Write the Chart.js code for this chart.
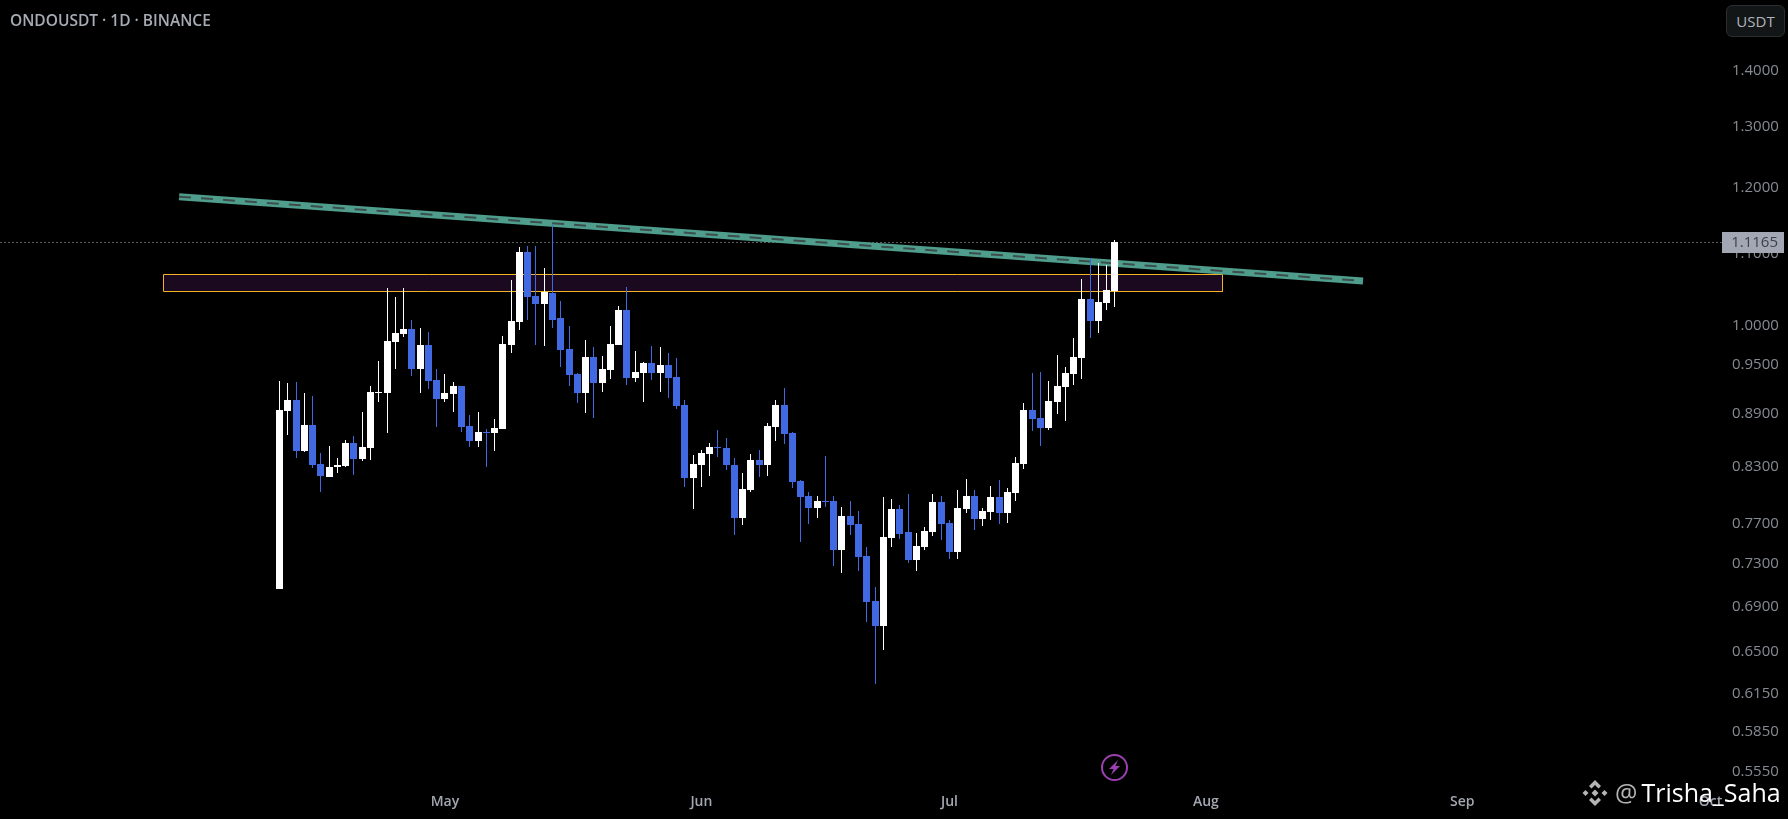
<!DOCTYPE html>
<html>
<head>
<meta charset="utf-8">
<title>ONDOUSDT</title>
<script src="https://cdn.jsdelivr.net/npm/chart.js@4/dist/chart.umd.min.js"></script>
<style>
  html, body { margin: 0; padding: 0; background: #000; }
  #wrap { position: relative; width: 1788px; height: 819px; overflow: hidden; font-family: "Open Sans", sans-serif; }
  #priceChart { position: absolute; left: 0; top: 0; }
  .title { position: absolute; left: 10px; top: 10px; font-size: 15.5px; line-height: 20px; font-weight: 600; color: #a6abb6; white-space: nowrap; }
  .badge { position: absolute; left: 1726px; top: 5px; width: 59px; height: 32px; box-sizing: border-box; border: 1px solid #2a2e2f; border-radius: 6px; background: #131617; color: #b2b5be; font-size: 15px; line-height: 30px; text-align: center; }
  .mark { position: absolute; left: 1615px; top: 775px; font-size: 25px; line-height: 34px; color: #fff; white-space: nowrap; }
  .mark span { color: #b5b5b5; margin-right: 4px; }
  svg { position: absolute; }
</style>
</head>
<body>
<div id="wrap">
  <canvas id="priceChart" width="1788" height="819"></canvas>
  <div class="title">ONDOUSDT · 1D · BINANCE</div>
  <div class="badge">USDT</div>
  <svg style="left:1100px;top:753px" width="29" height="29" viewBox="0 0 29 29">
    <circle cx="14.5" cy="14.5" r="12.5" fill="none" stroke="#9c3fb0" stroke-width="2"></circle>
    <polygon points="18,7 9,16 13.5,16 11,22 20,13 15.5,13" fill="#9c3fb0"></polygon>
  </svg>
  <svg style="left:1581px;top:779px" width="28" height="28" viewBox="0 0 28 28" fill="#b5b5b5">
    <polygon points="14,1 20,7 17.5,9.5 14,6 10.5,9.5 8,7"></polygon>
    <polygon points="4.5,11 7.5,14 4.5,17 1.5,14"></polygon>
    <polygon points="23.5,11 26.5,14 23.5,17 20.5,14"></polygon>
    <polygon points="14,10.5 17.5,14 14,17.5 10.5,14"></polygon>
    <polygon points="14,27 8,21 10.5,18.5 14,22 17.5,18.5 20,21"></polygon>
  </svg>
  <div class="mark"><span>@</span>Trisha_Saha</div>
</div>
<script>
// daily candles, first one is 11 Apr
const opens = [
  0.7064, 0.8936, 0.9066, 0.8477, 0.8772, 0.8331, 0.8191, 0.8298, 0.8309, 0.8567,
  0.8387, 0.8511, 0.9151, 0.9150, 0.9788, 0.9891, 0.9955, 0.9444, 0.9749, 0.9309,
  0.9078, 0.9138, 0.9236, 0.8760, 0.8589, 0.8691, 0.8679, 0.8725, 0.9749, 1.0050,
  1.1023, 1.0399, 1.0291, 1.0441, 1.0103, 0.9698, 0.9383, 0.9150, 0.9595, 0.9273,
  0.9432, 0.9749, 1.0211, 0.9334, 0.9395, 0.9518, 0.9395, 0.9494, 0.9346, 0.9007,
  0.8180, 0.8320, 0.8443, 0.8522, 0.8511, 0.8320, 0.7760, 0.8051, 0.8376, 0.8320,
  0.8748, 0.9007, 0.8679, 0.8148, 0.7986, 0.7862, 0.7934, 0.7934, 0.7439, 0.7780,
  0.7698, 0.7379, 0.6953, 0.6727, 0.7557, 0.7852, 0.7616, 0.7340, 0.7468, 0.7616,
  0.7924, 0.7708, 0.7419, 0.7852, 0.7986, 0.7749, 0.7821, 0.7976, 0.7811, 0.8018,
  0.8331, 0.8948, 0.8854, 0.8737, 0.9042, 0.9224, 0.9383, 0.9582, 1.0359, 1.0063,
  1.0305, 1.0469,
];
const closes = [
  0.8948, 0.9066, 0.8477, 0.8772, 0.8320, 0.8202, 0.8298, 0.8320, 0.8567, 0.8387,
  0.8522, 0.9157, 0.9157, 0.9801, 0.9904, 0.9955, 0.9444, 0.9749, 0.9297, 0.9078,
  0.9150, 0.9236, 0.8748, 0.8589, 0.8691, 0.8683, 0.8737, 0.9762, 1.0063, 1.1023,
  1.0385, 1.0291, 1.0455, 1.0076, 0.9685, 0.9371, 0.9150, 0.9595, 0.9273, 0.9444,
  0.9762, 1.0211, 0.9334, 0.9408, 0.9518, 0.9395, 0.9494, 0.9334, 0.8995, 0.8180,
  0.8331, 0.8454, 0.8522, 0.8514, 0.8320, 0.7760, 0.8062, 0.8376, 0.8320, 0.8760,
  0.9007, 0.8668, 0.8137, 0.7976, 0.7862, 0.7934, 0.7928, 0.7439, 0.7780, 0.7688,
  0.7369, 0.6944, 0.6727, 0.7567, 0.7852, 0.7597, 0.7340, 0.7478, 0.7626, 0.7924,
  0.7698, 0.7419, 0.7862, 0.7986, 0.7749, 0.7832, 0.7976, 0.7811, 0.8029, 0.8342,
  0.8948, 0.8842, 0.8737, 0.9054, 0.9236, 0.9395, 0.9595, 1.0359, 1.0063, 1.0318,
  1.0483, 1.1165,
];
const highs = [
  0.9297, 0.9273, 0.9285, 0.9150, 0.9113, 0.8454, 0.8533, 0.8398, 0.8600, 0.8646,
  0.8925, 0.9236, 0.9544, 1.0511, 1.0385, 1.0511, 1.0076, 0.9969, 0.9916, 0.9444,
  0.9383, 0.9285, 0.9236, 0.8889, 0.8925, 0.8725, 0.8842, 0.9865, 1.0624, 1.1096,
  1.1111, 1.1111, 1.0792, 1.1425, 1.0329, 0.9996, 0.9395, 0.9814, 0.9724, 0.9608,
  0.9996, 1.0265, 1.0525, 0.9672, 0.9531, 0.9736, 0.9724, 0.9647, 0.9582, 0.9066,
  0.8432, 0.8488, 0.8567, 0.8713, 0.8623, 0.8398, 0.8234, 0.8443, 0.8488, 0.8795,
  0.9066, 0.9211, 0.8691, 0.8159, 0.8029, 0.7986, 0.8420, 0.7986, 0.7873, 0.7934,
  0.7832, 0.7468, 0.7083, 0.7976, 0.7955, 0.7893, 0.8008, 0.7606, 0.7667, 0.8008,
  0.7986, 0.7739, 0.8051, 0.8169, 0.8051, 0.7862, 0.8094, 0.8159, 0.8072, 0.8409,
  0.9031, 0.9395, 0.9408, 0.9297, 0.9621, 0.9469, 0.9839, 1.0637, 1.0935, 1.0862,
  1.0834, 1.1199,
];
const lows = [
  0.7064, 0.8657, 0.8398, 0.8465, 0.8288, 0.8029, 0.8191, 0.8234, 0.8298, 0.8212,
  0.8364, 0.8376, 0.9042, 0.8679, 0.9444, 0.9852, 0.9359, 0.9150, 0.9199, 0.8748,
  0.9042, 0.8925, 0.8691, 0.8522, 0.8522, 0.8298, 0.8477, 0.8725, 0.9647, 0.9942,
  1.0076, 0.9749, 0.9736, 0.9969, 0.9469, 0.9236, 0.9031, 0.8913, 0.8854, 0.9162,
  0.9322, 0.9749, 0.9248, 0.9285, 0.9042, 0.9309, 0.9162, 0.9089, 0.8952, 0.8083,
  0.7852, 0.8083, 0.8202, 0.8409, 0.8266, 0.7587, 0.7688, 0.8029, 0.8191, 0.8202,
  0.8589, 0.8556, 0.8072, 0.7518, 0.7698, 0.7760, 0.7873, 0.7282, 0.7216, 0.7587,
  0.7235, 0.6763, 0.6233, 0.6519, 0.7468, 0.7547, 0.7310, 0.7235, 0.7439, 0.7577,
  0.7537, 0.7350, 0.7350, 0.7811, 0.7636, 0.7677, 0.7739, 0.7698, 0.7708, 0.7934,
  0.8277, 0.8702, 0.8533, 0.8713, 0.8901, 0.8819, 0.9248, 0.9322, 0.9839, 0.9904,
  1.0211, 1.0251,
];

// axis ticks
const priceTicks = [1.4, 1.3, 1.2, 1.1, 1.0, 0.95, 0.89, 0.83, 0.77, 0.73, 0.69, 0.65, 0.615, 0.585, 0.555];
const monthLabels = ["May", "Jun", "Jul", "Aug", "Sep", "Oct"];
const monthDays = [20, 51, 81, 112, 143, 173];

// drawings on the chart, x is days after the first candle
const lastPrice = 1.1165;
const zoneDays = [-14, 114];
const zonePrices = [1.0698, 1.0461];
const trendDays = [-12.15, 131];
const trendPrices = [1.1855, 1.0607];

const xMin = -33.8;
const xMax = 174.4;
const yMin = 0.5446;
const yMax = 1.5369;

const upColor = "#ffffff";
const downColor = "#4169e1";
const candleColors = closes.map((c, i) => (c >= opens[i] ? upColor : downColor));

// keeps candles and thin lines on whole pixels
const snapPlugin = {
  id: "snap",
  beforeDatasetsDraw(chart) {
    chart.data.datasets.forEach((ds, i) => {
      const meta = chart.getDatasetMeta(i);
      if (ds.type === "bar") {
        meta.data.forEach((bar) => {
          bar.x = Math.floor(bar.x) + 0.5;
          bar.y = Math.round(bar.y);
          bar.base = Math.round(bar.base);
          if (bar.y === bar.base) bar.base = bar.y + 1;
        });
      } else if (ds.snap) {
        meta.data.forEach((pt) => {
          pt.x = Math.floor(pt.x) + 0.5;
          pt.y = Math.floor(pt.y) + 0.5;
        });
      }
    });
  },
};

// current price tag on the axis
const priceTagPlugin = {
  id: "priceTag",
  afterDraw(chart) {
    const { ctx } = chart;
    const y = Math.floor(chart.scales.y.getPixelForValue(lastPrice));
    ctx.save();
    ctx.fillStyle = "#a3a7b4";
    ctx.fillRect(1722, y - 10, 62, 21);
    ctx.fillStyle = "#3b424d";
    ctx.font = '15px "Open Sans"';
    ctx.textAlign = "right";
    ctx.textBaseline = "middle";
    ctx.fillText(lastPrice.toFixed(4), 1778, y + 1);
    ctx.restore();
  },
};

new Chart(document.getElementById("priceChart"), {
  type: "bar",
  data: {
    datasets: [
      {
        type: "line",
        data: [
          { x: zoneDays[0], y: zonePrices[0] },
          { x: zoneDays[1], y: zonePrices[0] },
          { x: zoneDays[1], y: zonePrices[1] },
          { x: zoneDays[0], y: zonePrices[1] },
          { x: zoneDays[0], y: zonePrices[0] },
        ],
        borderColor: "#f5b324",
        borderWidth: 1,
        backgroundColor: "#1b0a1f",
        fill: "shape",
        pointRadius: 0,
        order: 6,
        snap: true,
      },
      {
        type: "line",
        data: [
          { x: xMin, y: lastPrice },
          { x: xMax, y: lastPrice },
        ],
        borderColor: "#b4b4b4",
        borderWidth: 1,
        borderDash: [1, 3],
        pointRadius: 0,
        order: 5,
        snap: true,
      },
      {
        type: "line",
        data: [
          { x: trendDays[0], y: trendPrices[0] },
          { x: trendDays[1], y: trendPrices[1] },
        ],
        borderColor: "#4f9e8d",
        borderWidth: 7,
        pointRadius: 0,
        order: 4,
      },
      {
        type: "line",
        data: [
          { x: trendDays[0], y: trendPrices[0] },
          { x: trendDays[1], y: trendPrices[1] },
        ],
        borderColor: "#3d4d4b",
        borderWidth: 2,
        borderDash: [12, 10],
        pointRadius: 0,
        order: 3,
      },
      {
        type: "bar",
        data: lows.map((l, i) => ({ x: i, y: [l, highs[i]] })),
        backgroundColor: candleColors,
        barThickness: 1,
        grouped: false,
        inflateAmount: 0,
        order: 2,
      },
      {
        type: "bar",
        data: opens.map((o, i) => ({ x: i, y: [o, closes[i]] })),
        backgroundColor: candleColors,
        barThickness: 7,
        grouped: false,
        inflateAmount: 0,
        order: 1,
      },
    ],
  },
  options: {
    responsive: false,
    animation: false,
    layout: { padding: 0 },
    plugins: {
      legend: { display: false },
      title: { display: false },
      tooltip: { enabled: false },
    },
    scales: {
      x: {
        type: "linear",
        offset: false,
        min: xMin,
        max: xMax,
        grid: { display: false, offset: false, drawTicks: false },
        border: { display: false },
        afterBuildTicks: (scale) => {
          scale.ticks = monthDays.map((d) => ({ value: d }));
        },
        afterFit: (scale) => {
          scale.height = 33;
          scale.paddingLeft = 0;
          scale.paddingRight = 0;
        },
        ticks: {
          autoSkip: false,
          maxRotation: 0,
          padding: 8,
          color: "#a3a7b0",
          font: { family: "Open Sans", size: 14, weight: "600" },
          callback: (value) => monthLabels[monthDays.indexOf(value)],
        },
      },
      y: {
        type: "logarithmic",
        position: "right",
        min: yMin,
        max: yMax,
        grid: { display: false, drawTicks: false },
        border: { display: false },
        afterBuildTicks: (scale) => {
          scale.ticks = priceTicks.map((p) => ({ value: p }));
        },
        afterFit: (scale) => {
          scale.width = 66;
          scale.paddingTop = 0;
          scale.paddingBottom = 0;
        },
        ticks: {
          autoSkip: false,
          crossAlign: "near",
          padding: 10,
          color: "#868b92",
          font: { family: "Open Sans", size: 15 },
          callback: (value) => value.toFixed(4),
        },
      },
    },
  },
  plugins: [snapPlugin, priceTagPlugin],
});
</script>
</body>
</html>
